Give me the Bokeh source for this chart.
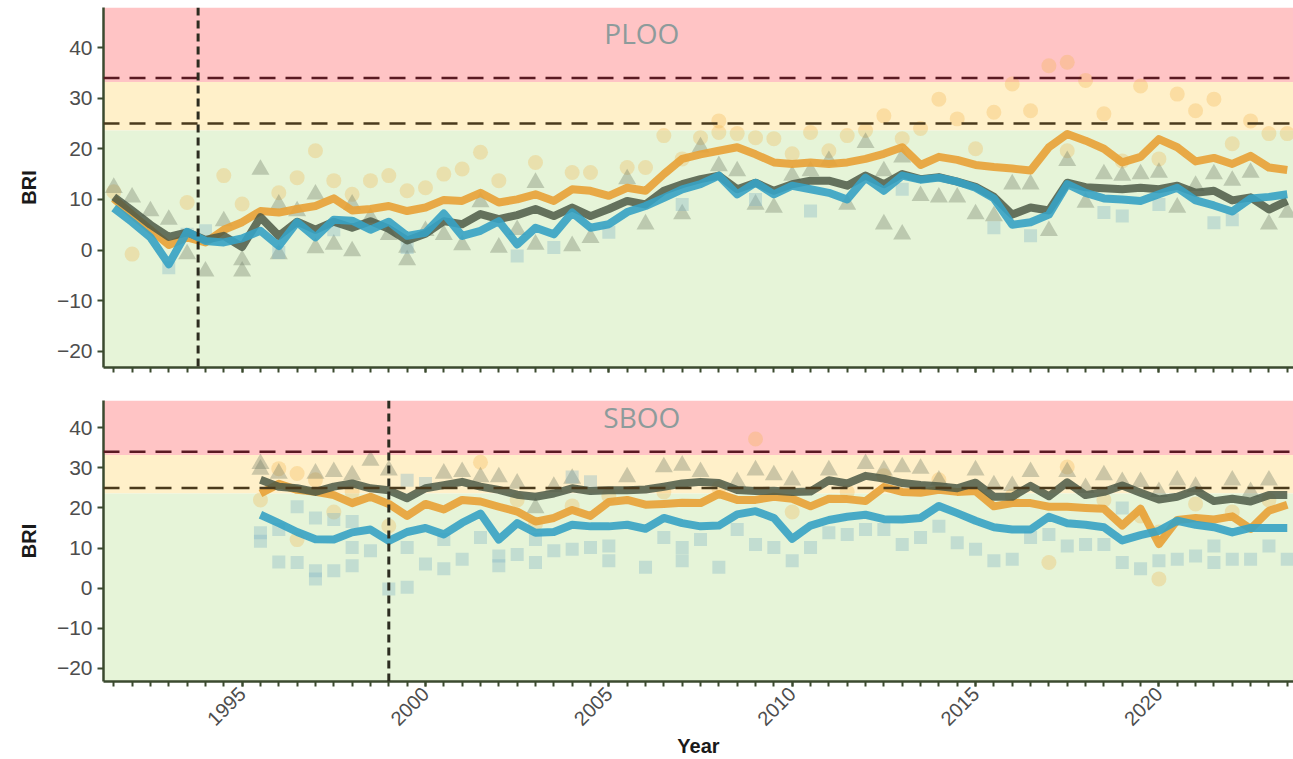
import math
from bokeh.plotting import figure
from bokeh.models import (Range1d, FixedTicker, BoxAnnotation, Span, Label)
from bokeh.layouts import column
from bokeh.embed import file_html
from bokeh.resources import INLINE

# ---------------- data ----------------
ploo_year = [1991.5, 1992.0, 1992.5, 1993.0, 1993.5, 1994.0, 1994.5, 1995.0, 1995.5, 1996.0,
             1996.5, 1997.0, 1997.5, 1998.0, 1998.5, 1999.0, 1999.5, 2000.0, 2000.5, 2001.0,
             2001.5, 2002.0, 2002.5, 2003.0, 2003.5, 2004.0, 2004.5, 2005.0, 2005.5, 2006.0,
             2006.5, 2007.0, 2007.5, 2008.0, 2008.5, 2009.0, 2009.5, 2010.0, 2010.5, 2011.0,
             2011.5, 2012.0, 2012.5, 2013.0, 2013.5, 2014.0, 2014.5, 2015.0, 2015.5, 2016.0,
             2016.5, 2017.0, 2017.5, 2018.0, 2018.5, 2019.0, 2019.5, 2020.0, 2020.5, 2021.0,
             2021.5, 2022.0, 2022.5, 2023.0, 2023.5]
ploo_orange = [10.2, 7.0, 4.0, 1.0, 2.5, 1.5, 4.0, 5.5, 7.7, 7.4,
               8.1, 8.7, 10.2, 7.8, 8.1, 8.7, 7.7, 8.4, 9.9, 9.7,
               11.3, 9.4, 10.0, 11.0, 9.7, 12.0, 11.7, 10.7, 12.3, 11.7,
               15.0, 18.0, 18.9, 19.6, 20.3, 18.9, 17.3, 17.0, 17.3, 17.0,
               17.3, 18.0, 19.0, 20.3, 16.8, 18.4, 17.8, 16.8, 16.4, 16.1,
               15.7, 20.3, 22.9, 21.6, 20.0, 17.3, 18.4, 21.9, 20.3, 17.5,
               18.2, 17.0, 18.6, 16.3, 15.8]
ploo_dark = [10.5, 7.8, 5.0, 2.6, 3.5, 2.0, 2.8, 0.6, 6.5, 2.8,
             5.6, 4.0, 5.6, 4.4, 5.7, 4.2, 1.9, 3.2, 5.7, 5.1,
             7.1, 6.1, 6.9, 8.1, 6.7, 8.4, 6.7, 8.1, 9.7, 9.0,
             11.7, 13.0, 14.0, 14.7, 12.0, 13.3, 11.7, 13.0, 13.7, 13.7,
             12.7, 14.7, 13.0, 15.0, 14.0, 14.4, 13.5, 12.5, 10.5, 7.0,
             8.4, 7.8, 13.3, 12.4, 12.2, 12.0, 12.3, 12.0, 12.7, 11.3,
             11.7, 9.8, 10.4, 8.0, 9.7]
ploo_blue = [8.3, 5.5, 2.5, -2.8, 3.6, 1.8, 1.5, 2.3, 3.8, 0.8,
             5.5, 2.5, 6.0, 5.8, 4.0, 5.6, 2.8, 3.4, 7.2, 2.8,
             3.8, 5.7, 1.1, 4.4, 3.1, 7.4, 4.4, 5.1, 7.5, 8.7,
             10.3, 12.0, 13.0, 14.7, 11.0, 13.3, 11.0, 12.7, 12.0, 11.3,
             10.0, 14.3, 11.7, 14.7, 13.9, 14.3, 13.5, 12.3, 10.2, 5.0,
             5.5, 7.0, 13.0, 11.3, 10.2, 10.0, 9.7, 11.0, 12.3, 9.8,
             8.8, 7.6, 10.2, 10.5, 11.0]

sboo_year = [1995.5, 1996.0, 1996.5, 1997.0, 1997.5, 1998.0, 1998.5, 1999.0, 1999.5, 2000.0,
             2000.5, 2001.0, 2001.5, 2002.0, 2002.5, 2003.0, 2003.5, 2004.0, 2004.5, 2005.0,
             2005.5, 2006.0, 2006.5, 2007.0, 2007.5, 2008.0, 2008.5, 2009.0, 2009.5, 2010.0,
             2010.5, 2011.0, 2011.5, 2012.0, 2012.5, 2013.0, 2013.5, 2014.0, 2014.5, 2015.0,
             2015.5, 2016.0, 2016.5, 2017.0, 2017.5, 2018.0, 2018.5, 2019.0, 2019.5, 2020.0,
             2020.5, 2021.0, 2021.5, 2022.0, 2022.5, 2023.0, 2023.5]
sboo_orange = [23.6, 26.0, 24.5, 24.0, 23.2, 21.2, 22.8, 21.0, 18.0, 21.0,
               19.6, 22.0, 21.6, 20.3, 19.1, 16.6, 17.5, 19.5, 18.0, 21.5,
               22.0, 20.8, 21.0, 21.3, 21.2, 23.5, 22.0, 22.0, 22.8, 22.3,
               20.4, 22.3, 22.2, 21.7, 25.2, 24.0, 23.8, 24.5, 24.0, 24.2,
               20.4, 21.2, 21.2, 20.3, 20.3, 20.0, 19.8, 15.6, 19.8, 11.0,
               17.0, 17.5, 17.1, 17.9, 14.8, 19.3, 20.8]
sboo_dark = [27.0, 25.3, 24.9, 24.0, 25.3, 26.1, 24.9, 24.4, 22.4, 24.9,
             25.7, 26.5, 25.3, 24.5, 23.3, 22.8, 23.6, 24.9, 24.2, 24.4,
             24.4, 24.6, 25.3, 26.1, 26.5, 26.2, 24.5, 24.2, 24.3, 24.0,
             24.1, 26.9, 26.1, 28.0, 27.3, 26.2, 25.7, 25.4, 24.9, 26.3,
             22.8, 22.8, 25.5, 22.9, 26.4, 23.2, 24.0, 25.6, 23.8, 22.1,
             22.8, 24.4, 21.7, 22.3, 21.6, 23.2, 23.2]
sboo_blue = [18.3, 16.2, 14.0, 12.2, 12.1, 13.9, 14.6, 11.8, 14.0, 15.0,
             13.4, 16.3, 18.6, 12.1, 16.2, 13.8, 14.0, 15.8, 15.4, 15.4,
             15.8, 14.8, 17.5, 16.2, 15.4, 15.6, 18.4, 19.2, 17.5, 12.3,
             15.6, 17.0, 17.8, 18.3, 17.2, 17.1, 17.5, 20.5, 18.7, 16.8,
             15.2, 14.6, 14.6, 17.8, 16.2, 15.8, 15.2, 11.9, 13.2, 14.3,
             16.8, 15.8, 15.2, 13.9, 15.0, 15.0, 15.0]

# individual station values (faded markers)
ploo_circ_year = [1991.5, 1992.0, 1993.5, 1994.5, 1995.0, 1996.0, 1996.5, 1997.0, 1997.5, 1998.0,
                  1998.5, 1999.0, 1999.5, 2000.0, 2000.5, 2001.0, 2001.5, 2002.0, 2003.0, 2004.0,
                  2004.5, 2005.5, 2006.0, 2006.5, 2007.0, 2007.5, 2008.0, 2008.0, 2008.5, 2009.0,
                  2009.5, 2010.0, 2010.5, 2011.0, 2011.5, 2012.0, 2012.5, 2013.0, 2014.0, 2014.5,
                  2015.5, 2016.0, 2016.5, 2017.0, 2017.5, 2018.0, 2018.5, 2019.5, 2020.5, 2021.0,
                  2021.5, 2022.5, 2023.0, 2017.5, 2019.0, 2022.0, 2020.0, 2015.0, 2013.5, 2023.5]
ploo_circ_bri = [11.5, -0.8, 9.4, 14.7, 9.1, 11.3, 14.3, 19.6, 13.7, 11.0,
                 13.7, 14.7, 11.7, 12.3, 15.0, 16.0, 19.3, 13.7, 17.3, 15.3,
                 15.3, 16.3, 16.3, 22.6, 18.0, 22.2, 23.2, 25.5, 23.0, 22.2,
                 22.0, 19.0, 23.2, 19.6, 22.6, 23.6, 26.5, 22.0, 29.8, 25.9,
                 27.2, 32.8, 27.5, 36.4, 37.1, 33.5, 26.9, 32.4, 30.8, 27.5,
                 29.8, 25.5, 23.0, 19.6, 17.6, 21.0, 18.0, 20.0, 24.0, 23.0]
ploo_tri_year = [1991.5, 1992.0, 1992.5, 1993.0, 1993.5, 1994.0, 1994.5, 1995.0, 1995.0, 1995.5,
                 1996.0, 1996.0, 1996.5, 1997.0, 1997.0, 1997.5, 1998.0, 1998.0, 1998.5, 1999.0,
                 1999.5, 1999.5, 2000.0, 2002.0, 2003.0, 2003.0, 2004.0, 2004.5, 2005.5, 2006.0,
                 2007.0, 2007.5, 2008.0, 2008.5, 2009.0, 2009.5, 2010.0, 2010.5, 2011.0, 2011.5,
                 2012.0, 2012.5, 2012.5, 2013.0, 2013.0, 2013.5, 2014.0, 2014.5, 2015.0, 2015.5,
                 2016.0, 2016.5, 2017.0, 2017.5, 2018.0, 2018.5, 2019.0, 2019.5, 2020.0, 2020.5,
                 2021.0, 2021.5, 2022.0, 2022.5, 2023.0, 2023.5, 2001.0, 2001.5, 2000.5, 2002.5]
ploo_tri_bri = [12.3, 10.4, 7.7, 6.0, -0.8, -4.2, 5.7, -4.2, -2.0, 15.9,
                9.0, -0.8, 7.7, 11.0, 0.4, 1.1, -0.2, 9.0, 6.4, 3.0,
                0.5, -2.0, 3.8, 0.5, 13.3, 1.1, 0.8, 2.4, 14.0, 5.1,
                7.1, 20.3, 16.6, 15.6, 9.0, 8.4, 14.7, 15.6, 17.6, 9.0,
                21.2, 5.1, 15.6, 3.1, 18.3, 10.7, 10.4, 10.4, 7.1, 6.7,
                13.0, 13.0, 3.8, 17.6, 9.4, 15.0, 14.7, 15.0, 15.3, 8.4,
                12.7, 15.0, 13.7, 15.3, 5.1, 7.4, 1.0, 9.5, 3.0, 4.0]
ploo_sq_year = [1993.0, 1993.5, 1994.0, 1996.0, 1997.5, 1999.5, 2002.5, 2003.5, 2005.0, 2007.0,
                2010.5, 2013.0, 2015.5, 2016.5, 2018.5, 2019.0, 2021.5, 2022.0, 2009.0, 2020.0]
ploo_sq_bri = [-3.5, 3.1, 3.8, -0.5, 4.0, 0.5, -1.2, 0.5, 3.5, 9.0,
               7.7, 12.0, 4.4, 2.8, 7.4, 6.7, 5.4, 6.0, 10.0, 9.0]

sboo_circ_year = [1995.5, 1996.0, 1996.5, 1996.5, 1997.0, 1998.0, 1999.0, 2001.5, 2002.5, 2004.0,
                  2005.0, 2006.5, 2008.0, 2009.0, 2011.5, 2012.5, 2014.0, 2016.0, 2017.0, 2017.5,
                  2018.5, 2019.5, 2020.0, 2020.0, 2021.0, 2022.0, 2023.0, 1997.5, 2010.0, 2003.0]
sboo_circ_bri = [22.0, 29.8, 28.6, 12.1, 27.0, 24.0, 15.5, 31.4, 22.0, 20.5,
                 23.0, 24.0, 25.0, 37.2, 24.0, 28.0, 27.0, 23.0, 6.4, 30.2,
                 22.0, 18.0, 2.3, 14.0, 21.0, 19.0, 22.0, 19.0, 19.0, 16.0]
sboo_tri_year = [1995.5, 1995.5, 1996.0, 1997.0, 1997.5, 1998.0, 1998.5, 1999.0, 2000.5, 2001.0,
                 2001.5, 2002.0, 2002.5, 2003.0, 2003.5, 2004.0, 2005.5, 2006.5, 2007.0, 2007.5,
                 2008.5, 2009.0, 2009.5, 2010.0, 2011.0, 2012.0, 2012.5, 2013.0, 2013.5, 2014.0,
                 2015.0, 2015.5, 2016.5, 2017.5, 2018.5, 2019.0, 2019.5, 2020.0, 2020.5, 2021.0,
                 2022.0, 2023.0, 2016.0, 2018.0, 2022.5]
sboo_tri_bri = [31.0, 29.6, 28.6, 28.6, 29.0, 28.2, 31.8, 29.4, 28.6, 29.0,
                27.7, 27.7, 26.1, 20.0, 25.3, 27.3, 27.7, 30.2, 30.6, 29.0,
                26.5, 29.4, 28.2, 26.9, 29.4, 31.0, 29.4, 30.2, 29.8, 26.9,
                29.4, 25.7, 29.0, 29.0, 28.2, 26.5, 26.5, 24.0, 26.9, 25.3,
                26.9, 26.9, 25.5, 25.0, 24.0]
sboo_sq_year = [1995.5, 1995.5, 1996.0, 1996.0, 1996.5, 1996.5, 1997.0, 1997.0, 1997.0, 1997.5,
                1997.5, 1998.0, 1998.0, 1998.0, 1998.5, 1999.0, 1999.5, 1999.5, 1999.5, 2000.0,
                2000.0, 2000.5, 2000.5, 2001.0, 2001.5, 2002.0, 2002.0, 2002.5, 2003.0, 2003.0,
                2003.5, 2004.0, 2004.0, 2004.5, 2004.5, 2005.0, 2005.0, 2006.0, 2006.5, 2007.0,
                2007.0, 2007.5, 2008.0, 2008.5, 2009.0, 2009.5, 2010.0, 2010.5, 2011.0, 2011.5,
                2012.0, 2012.5, 2013.0, 2013.5, 2014.0, 2014.5, 2015.0, 2015.5, 2016.0, 2016.5,
                2017.0, 2017.5, 2018.0, 2018.5, 2019.0, 2019.0, 2019.5, 2020.0, 2020.5, 2021.0,
                2021.5, 2021.5, 2022.0, 2022.5, 2023.0, 2023.5]
sboo_sq_bri = [13.8, 11.7, 6.5, 14.6, 6.4, 20.3, 17.5, 4.3, 2.3, 4.3,
               17.1, 5.6, 10.1, 16.6, 9.3, -0.2, 0.2, 10.1, 26.9, 6.0,
               26.1, 4.8, 12.1, 7.2, 12.6, 8.0, 5.6, 8.4, 6.4, 12.1,
               9.3, 9.7, 27.7, 10.1, 26.5, 10.5, 6.8, 5.2, 12.6, 10.1,
               6.8, 12.1, 5.2, 14.6, 10.9, 10.1, 6.8, 10.1, 13.8, 13.4,
               14.6, 14.6, 10.9, 12.6, 15.4, 11.3, 9.7, 6.8, 7.2, 12.6,
               13.4, 10.5, 10.9, 10.9, 6.4, 20.0, 4.8, 6.8, 7.2, 8.0,
               10.5, 6.4, 7.2, 7.2, 10.5, 7.2]

y_ticks = [-20, -10, 0, 10, 20, 30, 40]
x_major_ticks = [1995, 2000, 2005, 2010, 2015, 2020]
x_minor_ticks = [1991.5 + 0.5 * i for i in range(65)]
thresholds = [34, 25]           # dashed reference levels
band_edges = [33.2, 23.6]       # coloured zone edges
ploo_outfall = 1993.8
sboo_outfall = 1999.0

# ---------------- styling ----------------
AX = "#3b4a2f"
C_OR, C_DK, C_BL = "#E8A136", "#4C5946", "#36A2C4"
FONT = "Liberation Sans"


def make_panel(height, top_border, bottom_border, yr, show_labels):
    p = figure(width=1293, height=height, output_backend="svg", toolbar_location=None,
               x_range=Range1d(1991.22, 2023.67), y_range=Range1d(*yr),
               min_border_left=103, min_border_right=0,
               min_border_top=top_border, min_border_bottom=bottom_border)
    p.outline_line_color = None
    p.grid.visible = False
    p.background_fill_color = "white"
    p.add_layout(BoxAnnotation(bottom=band_edges[0], fill_color="#FFC4C5", fill_alpha=1,
                               line_color=None, level="underlay"))
    p.add_layout(BoxAnnotation(bottom=band_edges[1], top=band_edges[0], fill_color="#FFF0C9",
                               fill_alpha=1, line_color=None, level="underlay"))
    p.add_layout(BoxAnnotation(top=band_edges[1], fill_color="#E6F4D8", fill_alpha=1,
                               line_color=None, level="underlay"))
    for ax in (p.xaxis[0], p.yaxis[0]):
        ax.axis_line_color = AX
        ax.axis_line_width = 2.5
        ax.major_tick_line_color = AX
        ax.major_tick_line_width = 2
        ax.minor_tick_line_color = AX
        ax.minor_tick_line_width = 2
        ax.major_tick_in = 0
        ax.minor_tick_in = 0
        ax.major_label_text_font = FONT
        ax.major_label_text_color = "#4d4d4d"
        ax.axis_label_text_font = FONT
        ax.axis_label_text_font_style = "bold"
        ax.axis_label_text_color = "#1a1a1a"
        ax.axis_label_text_font_size = "20px"
    p.yaxis.ticker = FixedTicker(ticks=y_ticks)
    p.yaxis.major_tick_out = 6
    p.yaxis.major_label_text_font_size = "21px"
    p.yaxis.major_label_overrides = {t: (str(t).replace("-", "\u2212")) for t in y_ticks}
    p.yaxis.axis_label = "BRI"
    p.yaxis.axis_label_standoff = 14
    p.xaxis.ticker = FixedTicker(ticks=x_major_ticks, minor_ticks=x_minor_ticks)
    p.xaxis.major_tick_out = 5
    p.xaxis.minor_tick_out = 5
    if show_labels:
        p.xaxis.major_label_orientation = math.pi / 4
        p.xaxis.major_label_text_font_size = "20px"
        p.xaxis.major_label_standoff = 4
        p.xaxis.axis_label = "Year"
        p.xaxis.axis_label_standoff = 0
    else:
        p.xaxis.major_label_overrides = {t: "" for t in x_major_ticks}
    return p


def add_series(p, year, orange, dark, blue, cy, cb, ty, tb, sy, sb):
    p.scatter(cy, cb, marker="circle", size=15, fill_color="#F2B24A", fill_alpha=0.3, line_color=None)
    p.scatter(ty, tb, marker="triangle", size=18, fill_color="#6D7963", fill_alpha=0.35, line_color=None)
    p.scatter(sy, sb, marker="square", size=13, fill_color="#7DB2C6", fill_alpha=0.35, line_color=None)
    p.line(year, orange, line_color=C_OR, line_width=8, line_alpha=0.9, line_join="round")
    p.line(year, dark, line_color=C_DK, line_width=8, line_alpha=0.85, line_join="round")
    p.line(year, blue, line_color=C_BL, line_width=8, line_alpha=0.9, line_join="round")


def add_refs(p, outfall, name, label_y):
    p.add_layout(Span(location=thresholds[0], dimension="width", line_color="#5a1a22",
                      line_width=2.5, line_dash="16 10"))
    p.add_layout(Span(location=thresholds[1], dimension="width", line_color="#4a3a1c",
                      line_width=2.5, line_dash="16 10"))
    p.add_layout(Span(location=outfall, dimension="height", line_color="#2c2c20",
                      line_width=3, line_dash="8 5"))
    p.add_layout(Label(x=2005.9, y=label_y, text=name, text_align="center",
                       text_baseline="middle", text_font="Open Sans",
                       text_font_size="28px", text_color="#8d9b9b"))


p1 = make_panel(392, 7, 25, (-23.2, 47.9), False)
add_series(p1, ploo_year, ploo_orange, ploo_dark, ploo_blue,
           ploo_circ_year, ploo_circ_bri, ploo_tri_year, ploo_tri_bri, ploo_sq_year, ploo_sq_bri)
add_refs(p1, ploo_outfall, "PLOO", 42.8)

p2 = make_panel(367, 8, 75, (-23.3, 46.8), True)
add_series(p2, sboo_year, sboo_orange, sboo_dark, sboo_blue,
           sboo_circ_year, sboo_circ_bri, sboo_tri_year, sboo_tri_bri, sboo_sq_year, sboo_sq_bri)
add_refs(p2, sboo_outfall, "SBOO", 42.6)

layout = column(p1, p2)
open("out.html", "w").write(file_html(layout, INLINE))
